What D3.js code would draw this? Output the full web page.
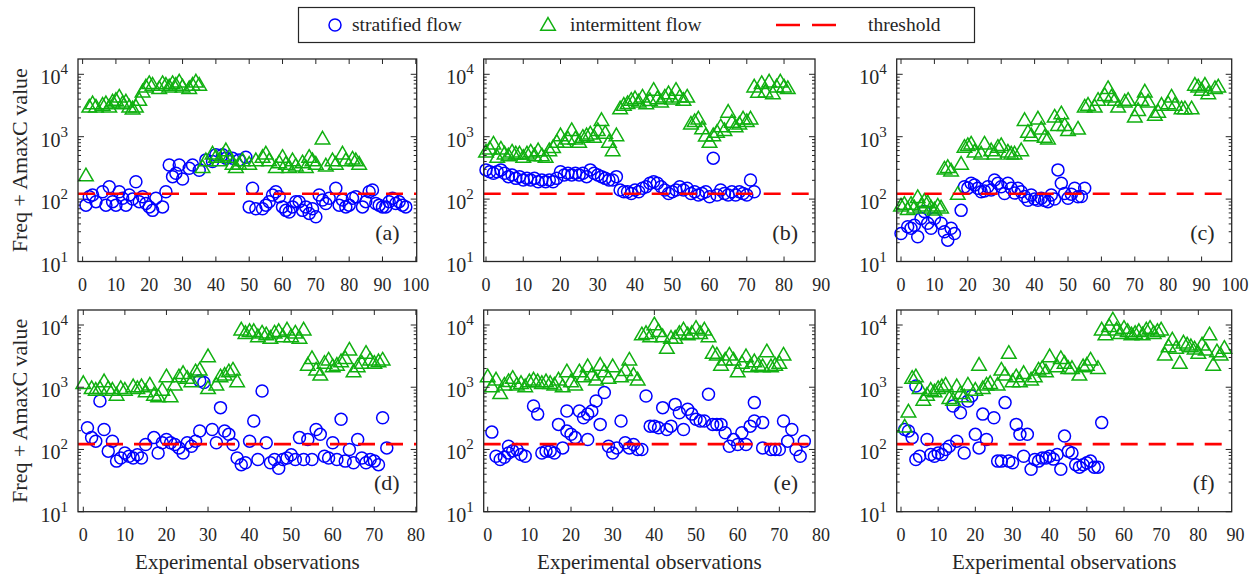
<!DOCTYPE html>
<html>
<head>
<meta charset="UTF-8">
<title>flow pattern observations</title>
<script src="https://cdn.jsdelivr.net/npm/d3@7"></script>
<style>
  body { margin: 0; background: #fff; }
  text { font-family: "Liberation Serif", "Times New Roman", serif; fill: #262626; }
</style>
</head>
<body>
<script>
// ---- data: [observation, value] ----
const stratA = [[1,80],[2,109],[3,116],[4,91],[6,131],[7,80],[8,158],[9,91],[10,80],[11,131],[12,103],[13,80],[14,116],[15,100],[16,190],[17,91],[18,109],[19,85],[20,75],[21,66],[22,103],[24,75],[25,131],[26,353],[27,229],[28,259],[29,353],[30,210],[32,312],[33,353],[35,290],[37,425],[39,400],[40,513],[42,513],[43,453],[45,453],[47,425],[49,470],[50,75],[51,149],[52,70],[54,70],[55,80],[56,91],[57,116],[58,131],[59,109],[60,75],[61,66],[62,62],[63,75],[64,91],[65,91],[66,66],[67,75],[68,59],[69,70],[70,52],[71,116],[72,97],[73,85],[74,103],[76,149],[77,80],[78,97],[79,75],[80,80],[81,103],[82,109],[84,75],[85,91],[86,131],[87,140],[88,85],[89,80],[90,75],[91,75],[92,91],[93,103],[94,85],[95,91],[96,80],[97,75]];
const interA = [[1,229],[2,2900],[3,3280],[4,2900],[6,3100],[7,3280],[8,2900],[9,3500],[10,3715],[11,4200],[12,3280],[13,3500],[14,2900],[15,2700],[16,2900],[17,3715],[18,5060],[19,6100],[20,6900],[21,6490],[23,5730],[24,6900],[25,6490],[26,6100],[27,6900],[28,6490],[29,7340],[30,6100],[32,5730],[33,6490],[34,7340],[35,6490],[36,312],[37,400],[39,513],[40,453],[41,400],[42,480],[43,580],[44,453],[45,353],[46,312],[47,353],[48,400],[50,353],[52,400],[54,453],[55,513],[56,400],[58,312],[59,370],[60,453],[61,353],[62,312],[63,400],[64,330],[66,370],[67,312],[68,453],[69,400],[70,353],[72,895],[73,330],[75,400],[76,353],[78,513],[79,400],[81,425],[82,400],[83,353]];

const stratB = [[0,294],[1,275],[2,259],[3,275],[4,294],[5,259],[6,229],[7,244],[8,215],[9,229],[10,202],[11,215],[12,202],[13,215],[14,190],[15,202],[16,190],[17,202],[18,190],[19,215],[20,275],[21,244],[22,259],[23,244],[24,259],[25,244],[26,259],[27,229],[28,294],[29,259],[30,244],[31,229],[32,215],[33,202],[34,202],[35,229],[36,140],[37,131],[38,131],[39,123],[40,140],[41,131],[42,149],[43,158],[44,179],[45,190],[46,179],[47,158],[48,140],[49,123],[50,131],[51,140],[52,158],[53,140],[54,149],[55,123],[56,131],[57,116],[58,123],[59,131],[60,109],[61,453],[62,116],[63,140],[64,123],[65,116],[66,131],[67,116],[68,131],[69,123],[70,116],[71,202],[72,131]];
const interB = [[0,550],[1,615],[2,740],[3,453],[4,615],[5,513],[6,480],[7,550],[8,513],[9,513],[10,453],[11,513],[12,550],[13,480],[14,580],[15,480],[16,453],[17,580],[18,650],[19,790],[20,1010],[21,790],[22,895],[23,1220],[24,895],[25,790],[26,950],[27,1010],[28,1075],[29,950],[30,1220],[31,1770],[32,1100],[33,790],[34,580],[35,1010],[36,2720],[37,3100],[38,3300],[39,3715],[40,3950],[41,3500],[42,4200],[43,3280],[44,3700],[45,5380],[46,3950],[47,3500],[48,4200],[49,4760],[50,3900],[51,5380],[52,4200],[53,3715],[54,4200],[55,1550],[56,1700],[57,1870],[58,1300],[59,1000],[60,790],[61,1010],[62,1140],[63,1400],[64,1220],[65,2400],[66,1660],[67,1400],[68,1550],[69,1870],[70,1700],[71,1870],[72,6100],[73,5000],[74,6900],[75,5060],[76,7340],[77,4760],[78,6100],[79,7340],[80,6100],[81,5730]];

const stratC = [[0,28],[2,36],[3,34],[4,38],[5,25],[6,49],[7,63],[8,41],[9,34],[10,49],[12,41],[13,30],[14,22],[15,34],[16,28],[18,66],[19,158],[20,150],[21,179],[22,168],[23,149],[24,131],[25,135],[26,158],[27,140],[28,202],[29,179],[30,158],[31,123],[32,179],[33,149],[34,125],[35,149],[36,131],[37,110],[38,96],[39,116],[40,100],[41,96],[42,103],[43,95],[44,91],[45,116],[46,100],[47,294],[48,179],[49,123],[50,103],[51,120],[52,149],[53,109],[54,110],[55,149]];
const interC = [[0,75],[1,80],[2,66],[3,80],[4,70],[5,103],[6,75],[7,90],[8,85],[9,70],[10,65],[11,75],[12,70],[13,294],[14,312],[15,275],[17,116],[18,353],[19,656],[20,700],[21,740],[22,550],[24,513],[25,740],[27,580],[28,513],[29,656],[30,700],[32,550],[33,513],[34,513],[36,580],[37,1770],[38,1140],[39,1010],[41,1870],[42,1290],[43,950],[44,895],[46,2000],[47,1470],[48,2260],[49,1470],[50,1220],[53,1290],[55,2900],[56,3100],[58,2900],[59,3715],[61,4460],[62,5730],[63,4200],[64,3715],[65,2900],[67,3500],[68,3715],[70,2000],[71,2560],[72,3715],[73,5060],[74,3500],[76,2140],[77,2400],[78,3100],[80,3280],[81,4200],[82,3100],[84,2720],[85,2720],[87,2720],[88,6490],[89,6100],[90,5380],[91,6490],[92,4760],[94,5730],[95,6100]];

const stratD = [[1,224],[2,155],[3,136],[4,600],[5,210],[6,94],[7,136],[8,65],[9,73],[10,88],[11,78],[12,73],[13,82],[14,73],[15,120],[17,155],[18,88],[19,128],[20,145],[21,128],[22,120],[23,106],[24,88],[25,128],[26,113],[27,136],[28,198],[28,1270],[29,1190],[31,210],[32,128],[33,470],[34,198],[35,175],[36,120],[37,73],[38,57],[39,61],[40,136],[41,286],[42,69],[43,870],[44,128],[45,61],[46,69],[47,50],[48,69],[49,73],[50,82],[51,69],[52,155],[53,69],[54,145],[55,69],[56,210],[57,175],[58,78],[59,73],[60,128],[61,69],[62,305],[63,65],[64,100],[65,61],[66,145],[67,73],[68,61],[69,69],[70,65],[71,57],[72,324],[73,106]];
const interD = [[0,1120],[2,925],[3,870],[4,925],[5,1190],[6,925],[7,870],[8,725],[9,925],[10,870],[12,990],[13,925],[14,990],[15,820],[16,1050],[17,725],[18,680],[19,870],[20,1430],[21,680],[22,1050],[23,1430],[24,1620],[25,1350],[26,1190],[27,1720],[28,1830],[30,3000],[30,925],[32,1050],[33,1430],[34,1520],[35,1720],[36,1830],[37,1190],[38,8100],[39,7100],[40,7640],[41,7640],[42,6300],[43,7200],[44,6740],[45,5950],[46,7200],[47,7640],[48,6300],[49,8100],[50,6300],[51,7200],[52,5950],[53,8100],[54,2200],[55,2800],[56,1830],[57,1520],[58,2350],[59,2660],[60,2080],[61,2200],[62,2500],[63,2800],[64,3840],[65,1720],[66,2080],[67,2350],[68,3400],[69,2660],[70,2350],[71,2500],[72,2660]];

const stratE = [[1,190],[2,78],[3,69],[4,75],[5,113],[5,88],[6,95],[7,100],[8,83],[9,78],[11,500],[12,370],[13,88],[14,94],[15,94],[16,88],[17,253],[18,106],[19,415],[19,198],[20,175],[21,155],[22,415],[23,324],[24,145],[24,370],[25,415],[26,600],[27,253],[28,820],[29,113],[30,88],[31,106],[32,286],[33,128],[34,106],[35,120],[36,100],[37,100],[38,725],[39,237],[40,237],[41,224],[42,470],[43,210],[44,237],[45,530],[46,390],[47,210],[48,442],[49,370],[50,305],[51,286],[52,286],[53,770],[54,253],[55,253],[56,253],[57,186],[58,113],[59,145],[60,120],[61,186],[62,120],[63,237],[64,286],[64,566],[66,106],[66,270],[68,100],[69,100],[70,100],[71,286],[72,136],[73,210],[74,100],[75,78],[76,136]];
const interE = [[0,1430],[1,990],[2,1270],[3,770],[4,1050],[5,1200],[6,1350],[7,1050],[8,1120],[9,990],[10,1190],[11,1270],[12,1190],[13,1120],[14,1190],[15,1120],[16,1050],[17,1270],[18,990],[19,1720],[20,1190],[21,1050],[22,1720],[23,1430],[24,2080],[25,1520],[26,1270],[27,2200],[28,1720],[29,1350],[30,2080],[32,1430],[33,1800],[34,2660],[35,1520],[36,1270],[37,6740],[38,7100],[39,6300],[40,9800],[41,7640],[42,6300],[43,4100],[44,5950],[45,5950],[46,7100],[47,8100],[48,6740],[49,7100],[50,8600],[51,7100],[52,8100],[53,6300],[54,3400],[55,3200],[56,2200],[57,2660],[58,3200],[59,2660],[60,1720],[61,2350],[62,3000],[63,2080],[64,2500],[65,2200],[66,2080],[67,3600],[68,2080],[69,2200],[70,2350],[71,3200]];

const stratF = [[1,210],[2,198],[3,155],[4,1050],[4,69],[5,78],[7,145],[8,83],[9,78],[10,88],[11,83],[12,100],[13,113],[14,500],[15,136],[16,390],[17,88],[18,600],[19,725],[20,175],[21,106],[22,370],[23,145],[25,324],[26,65],[27,65],[28,566],[29,65],[30,61],[31,253],[32,175],[33,78],[34,175],[35,48],[36,69],[37,65],[38,73],[39,73],[40,78],[41,70],[42,83],[43,48],[44,164],[45,94],[46,88],[47,57],[48,52],[49,57],[50,61],[51,65],[52,52],[53,52],[54,270]];
const interF = [[1,224],[2,390],[3,1350],[4,1430],[5,925],[6,600],[7,725],[8,870],[9,820],[10,925],[11,990],[12,1050],[13,640],[14,600],[15,990],[16,770],[17,680],[18,1050],[20,870],[21,2200],[22,925],[23,1050],[24,1120],[26,1050],[27,1830],[28,1520],[29,3400],[30,1190],[31,1430],[32,1190],[33,1620],[35,1270],[36,1430],[37,1830],[38,1950],[39,1720],[40,3000],[42,2080],[43,2800],[44,2350],[45,1950],[46,1950],[48,1520],[49,2080],[50,2200],[51,2660],[53,1950],[54,8100],[55,6740],[56,9200],[57,11700],[58,8100],[59,7100],[60,8600],[61,7640],[62,6740],[63,7100],[64,7640],[65,6740],[66,8100],[67,8600],[68,7100],[69,7640],[70,8100],[71,3200],[72,4350],[73,5600],[74,4100],[75,2350],[76,5000],[77,4640],[78,4350],[79,4000],[80,3400],[81,4640],[82,3840],[83,6740],[84,2200],[85,3600],[86,3200],[87,4100]];

const threshold = 122;
const xTicks100 = [0,10,20,30,40,50,60,70,80,90,100];
const xTicks90 = [0,10,20,30,40,50,60,70,80,90];
const xTicks80 = [0,10,20,30,40,50,60,70,80];
const yTicks = [10,100,1000,10000];
const labels = ['(a)','(b)','(c)','(d)','(e)','(f)'];
const seriesNames = ['stratified flow','intermittent flow','threshold'];

// ---- layout ----
const blue = '#0000ff', green = '#10b010', red = '#ff0000', ink = '#262626';
const rows = [
  {top: 59, bottom: 261.5, y10: 261.5, y1e4: 74.3},
  {top: 310, bottom: 511.7, y10: 511.7, y1e4: 325}
];
const cols = [
  {left: 78, right: 416.7},
  {left: 483.7, right: 815},
  {left: 896.7, right: 1231.7}
];
const panels = [
  {strat: stratA, inter: interA, ticks: xTicks100, row: 0, col: 0, x0: 82.6, x1: 415.8},
  {strat: stratB, inter: interB, ticks: xTicks90, row: 0, col: 1, x0: 486, x1: 821.3},
  {strat: stratC, inter: interC, ticks: xTicks100, row: 0, col: 2, x0: 901, x1: 1235},
  {strat: stratD, inter: interD, ticks: xTicks80, row: 1, col: 0, x0: 83.3, x1: 415.9},
  {strat: stratE, inter: interE, ticks: xTicks80, row: 1, col: 1, x0: 487.7, x1: 821},
  {strat: stratF, inter: interF, ticks: xTicks90, row: 1, col: 2, x0: 901, x1: 1235.5}
];

const svg = d3.select('body').append('svg')
  .attr('width', 1260).attr('height', 576);

const tri = d3.symbol().type(d3.symbolTriangle).size(92);

panels.forEach(function(p, i) {
  const r = rows[p.row], c = cols[p.col];
  const x = d3.scaleLinear().domain([0, p.ticks[p.ticks.length - 1]]).range([p.x0, p.x1]);
  const y = d3.scaleLog().domain([10, 10000]).range([r.y10, r.y1e4]);
  const g = svg.append('g');

  // markers
  g.selectAll('circle.s').data(p.strat).enter().append('circle')
    .attr('cx', d => x(d[0])).attr('cy', d => y(d[1])).attr('r', 6)
    .attr('fill', 'none').attr('stroke', blue).attr('stroke-width', 1.5);

  g.selectAll('path.t').data(p.inter).enter().append('path')
    .attr('d', tri)
    .attr('transform', d => 'translate(' + x(d[0]) + ',' + y(d[1]) + ')')
    .attr('fill', 'none').attr('stroke', green).attr('stroke-width', 1.5);

  // threshold
  g.append('line')
    .attr('x1', c.left).attr('x2', c.right)
    .attr('y1', y(threshold)).attr('y2', y(threshold))
    .attr('stroke', red).attr('stroke-width', 2.6)
    .attr('stroke-dasharray', '17,11');

  // frame
  g.append('rect')
    .attr('x', c.left).attr('y', r.top)
    .attr('width', c.right - c.left).attr('height', r.bottom - r.top)
    .attr('fill', 'none').attr('stroke', ink).attr('stroke-width', 1.3);

  // x ticks
  p.ticks.forEach(function(t) {
    const px = x(t);
    if (px >= c.left && px <= c.right) {
      g.append('line').attr('x1', px).attr('x2', px).attr('y1', r.bottom).attr('y2', r.bottom - 5)
        .attr('stroke', ink);
      g.append('line').attr('x1', px).attr('x2', px).attr('y1', r.top).attr('y2', r.top + 5)
        .attr('stroke', ink);
    }
    g.append('text').attr('x', px).attr('y', r.bottom + 29)
      .attr('text-anchor', 'middle').attr('font-size', 18).text(t);
  });

  // y ticks (major + minor, both sides)
  const minor = [];
  [10, 100, 1000].forEach(function(b) {
    for (let m = 2; m <= 9; m++) minor.push(b * m);
  });
  minor.forEach(function(v) {
    const py = y(v);
    g.append('line').attr('x1', c.left).attr('x2', c.left + 3).attr('y1', py).attr('y2', py).attr('stroke', ink);
    g.append('line').attr('x1', c.right).attr('x2', c.right - 3).attr('y1', py).attr('y2', py).attr('stroke', ink);
  });
  yTicks.forEach(function(v) {
    const py = y(v);
    g.append('line').attr('x1', c.left).attr('x2', c.left + 6).attr('y1', py).attr('y2', py).attr('stroke', ink);
    g.append('line').attr('x1', c.right).attr('x2', c.right - 6).attr('y1', py).attr('y2', py).attr('stroke', ink);
    const lab = g.append('text').attr('x', c.left - 10).attr('y', py + 10)
      .attr('text-anchor', 'end').attr('font-size', 20);
    lab.append('tspan').text('10');
    lab.append('tspan').attr('font-size', 15).attr('dy', -10).text(Math.round(Math.log10(v)));
  });

  // panel label
  g.append('text').attr('x', c.right - 17).attr('y', r.bottom - 22)
    .attr('text-anchor', 'end').attr('font-size', 22).text(labels[i]);

  if (p.col === 0) {
    g.append('text')
      .attr('transform', 'translate(27,' + ((r.top + r.bottom) / 2) + ') rotate(-90)')
      .attr('text-anchor', 'middle').attr('font-size', 22).text('Freq + AmaxC value');
  }
  if (p.row === 1) {
    g.append('text').attr('x', (c.left + c.right) / 2).attr('y', 569)
      .attr('text-anchor', 'middle').attr('font-size', 21).text('Experimental observations');
  }
});

// ---- legend ----
const lg = svg.append('g');
lg.append('rect').attr('x', 298.5).attr('y', 7.5).attr('width', 676).attr('height', 35)
  .attr('fill', '#fff').attr('stroke', ink).attr('stroke-width', 1.2);
lg.append('circle').attr('cx', 335).attr('cy', 25).attr('r', 6)
  .attr('fill', 'none').attr('stroke', blue).attr('stroke-width', 1.5);
lg.append('path').attr('d', tri).attr('transform', 'translate(548,26)')
  .attr('fill', 'none').attr('stroke', green).attr('stroke-width', 1.5);
lg.append('line').attr('x1', 776).attr('x2', 836).attr('y1', 25).attr('y2', 25)
  .attr('stroke', red).attr('stroke-width', 2.6).attr('stroke-dasharray', '24,12');
const legX = [352, 570, 868];
seriesNames.forEach(function(s, i) {
  lg.append('text').attr('x', legX[i]).attr('y', 31).attr('font-size', 19.5).text(s);
});
</script>
</body>
</html>
